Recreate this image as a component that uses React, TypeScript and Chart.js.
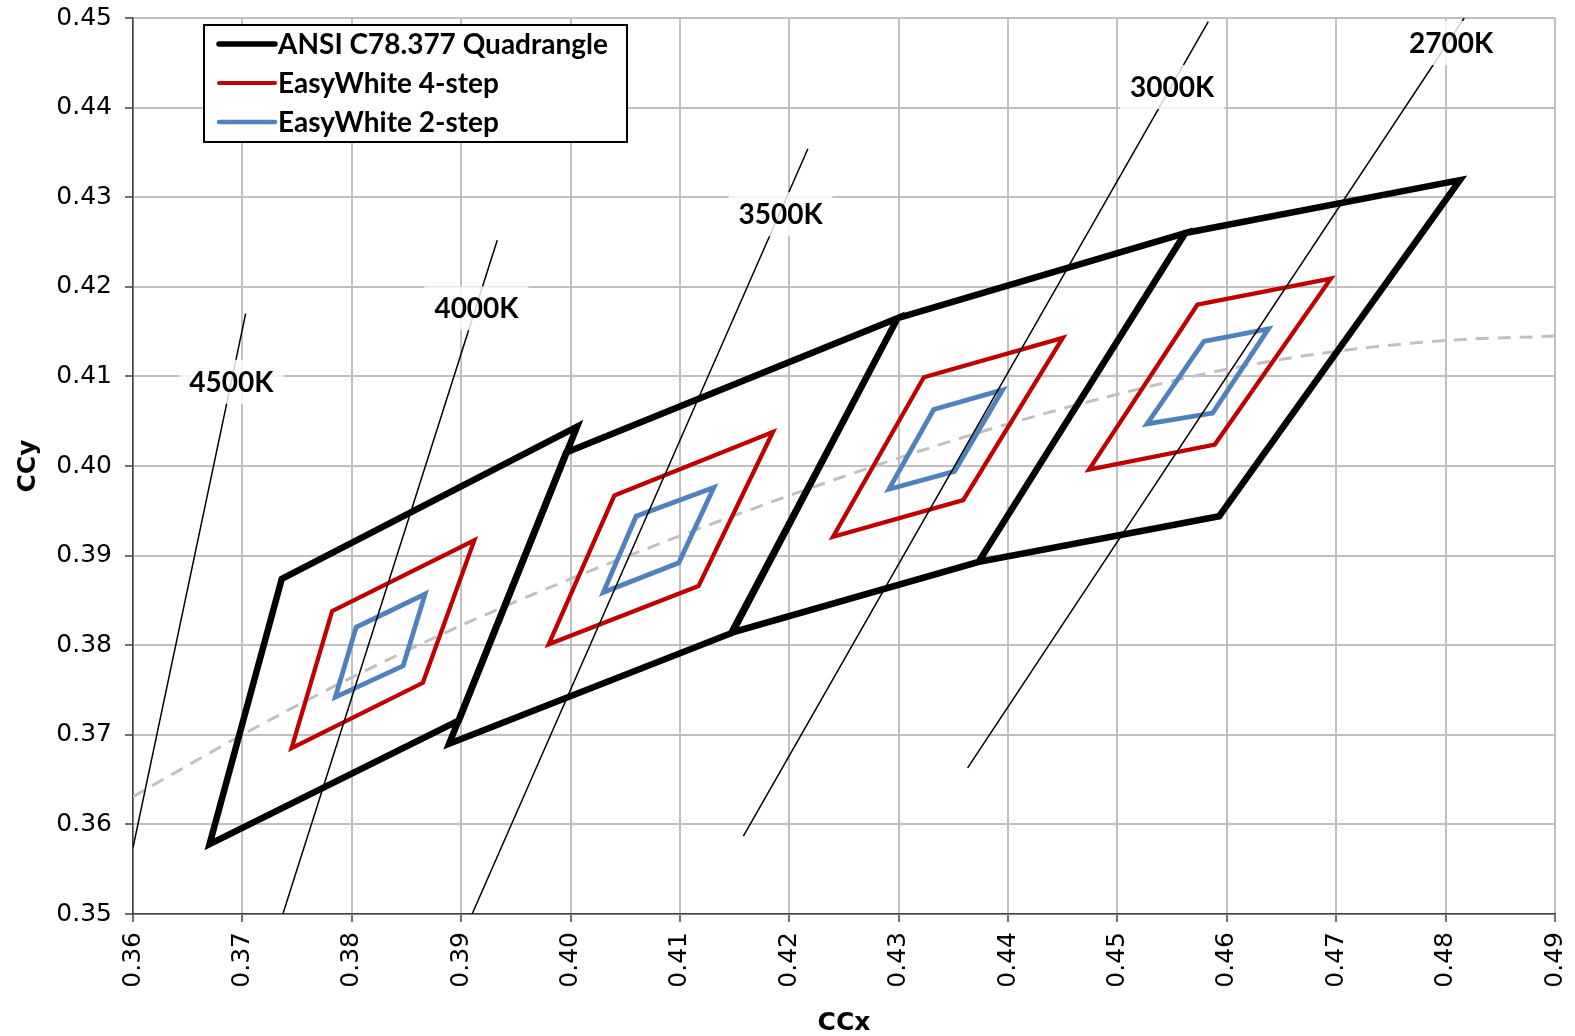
import React, { useEffect, useRef } from "react";
import { Chart, registerables } from "chart.js";

Chart.register(...registerables);

// ---- axis ticks ----
const xTicks = [0.36, 0.37, 0.38, 0.39, 0.4, 0.41, 0.42, 0.43, 0.44, 0.45, 0.46, 0.47, 0.48, 0.49];
const yTicks = [0.35, 0.36, 0.37, 0.38, 0.39, 0.4, 0.41, 0.42, 0.43, 0.44, 0.45];

// ---- series names ----
const seriesNames = ["ANSI C78.377 Quadrangle", "EasyWhite 4-step", "EasyWhite 2-step"];

// ---- ANSI C78.377 quadrangles (corners: TL, TR, BR, BL) ----
const ansi4000X = [0.3736, 0.4006, 0.3898, 0.367];
const ansi4000Y = [0.3874, 0.4044, 0.3716, 0.3578];
const ansi3500X = [0.3996, 0.4299, 0.4148, 0.3889];
const ansi3500Y = [0.4015, 0.4165, 0.3814, 0.369];
const ansi3000X = [0.4299, 0.4562, 0.4373, 0.4147];
const ansi3000Y = [0.4165, 0.426, 0.3893, 0.3814];
const ansi2700X = [0.4562, 0.4813, 0.4593, 0.4373];
const ansi2700Y = [0.426, 0.4319, 0.3944, 0.3893];

// ---- EasyWhite 4-step ----
const ew4_4000X = [0.3782, 0.3912, 0.3865, 0.3745];
const ew4_4000Y = [0.3838, 0.3917, 0.3758, 0.3685];
const ew4_3500X = [0.404, 0.4185, 0.4117, 0.398];
const ew4_3500Y = [0.3967, 0.4038, 0.3866, 0.3801];
const ew4_3000X = [0.4323, 0.445, 0.4359, 0.424];
const ew4_3000Y = [0.4099, 0.4143, 0.3962, 0.3921];
const ew4_2700X = [0.4573, 0.4695, 0.4589, 0.4474];
const ew4_2700Y = [0.418, 0.4209, 0.4024, 0.3996];

// ---- EasyWhite 2-step ----
const ew2_4000X = [0.3804, 0.3867, 0.3847, 0.3785];
const ew2_4000Y = [0.382, 0.3857, 0.3777, 0.3742];
const ew2_3500X = [0.406, 0.4131, 0.4099, 0.403];
const ew2_3500Y = [0.3944, 0.3976, 0.3892, 0.3859];
const ew2_3000X = [0.4332, 0.4395, 0.4351, 0.4291];
const ew2_3000Y = [0.4063, 0.4085, 0.3994, 0.3974];
const ew2_2700X = [0.4579, 0.4638, 0.4587, 0.4527];
const ew2_2700Y = [0.4139, 0.4153, 0.4059, 0.4047];

// ---- black-body (Planckian) locus, dashed ----
const locusX = [0.36, 0.37, 0.38, 0.39, 0.4, 0.41, 0.42, 0.43, 0.44, 0.45, 0.46, 0.47, 0.48, 0.49];
const locusY = [0.3631, 0.37, 0.3764, 0.3822, 0.3874, 0.3922, 0.3967, 0.4009, 0.4047, 0.408, 0.4108, 0.4128, 0.414, 0.4145];

// ---- isotherm lines (start / end) ----
const isoNames = ["4500K", "4000K", "3500K", "3000K", "2700K"];
const isoX1 = [0.36, 0.3737, 0.391, 0.4158, 0.4363];
const isoY1 = [0.3574, 0.35, 0.35, 0.3587, 0.3663];
const isoX2 = [0.3703, 0.3933, 0.4217, 0.4583, 0.4817];
const isoY2 = [0.417, 0.4252, 0.4354, 0.4496, 0.45];
// label centres
const isoLabelX = [0.369, 0.3914, 0.4192, 0.455, 0.4805];
const isoLabelY = [0.4094, 0.4176, 0.4281, 0.4423, 0.4472];

type Pt = { x: number; y: number };

function polygons(list: [number[], number[]][]): Pt[] {
  const pts: Pt[] = [];
  for (const [xs, ys] of list) {
    const n = xs.length;
    for (let i = 0; i <= n + 1; i++) {
      const k = i % n;
      pts.push({ x: xs[k], y: ys[k] });
    }
    pts.push({ x: NaN, y: NaN });
  }
  return pts;
}

function segments(): Pt[] {
  const pts: Pt[] = [];
  for (let i = 0; i < isoNames.length; i++) {
    pts.push({ x: isoX1[i], y: isoY1[i] });
    pts.push({ x: isoX2[i], y: isoY2[i] });
    pts.push({ x: NaN, y: NaN });
  }
  return pts;
}

const LABEL_FONT = "bold 28px Lato";
const LEGEND_FONT = "bold 28px Lato";

const overlayPlugin = {
  id: "overlay",
  afterDatasetsDraw(chart: any) {
    const ctx: CanvasRenderingContext2D = chart.ctx;
    const xs = chart.scales.x;
    const ys = chart.scales.y;
    const area = chart.chartArea;
    ctx.save();
    // isotherm labels
    ctx.font = LABEL_FONT;
    ctx.textAlign = "center";
    ctx.textBaseline = "middle";
    for (let i = 0; i < isoNames.length; i++) {
      const px = xs.getPixelForValue(isoLabelX[i]);
      const py = ys.getPixelForValue(isoLabelY[i]);
      ctx.fillStyle = "rgba(255,255,255,0.82)";
      ctx.fillRect(px - 52, py - 22, 104, 44);
      ctx.fillStyle = "#000";
      ctx.fillText(isoNames[i], px, py + 1);
    }
    // legend
    const lx = area.left + 71;
    const ly = area.top + 7;
    const lw = 423;
    const lh = 117;
    ctx.fillStyle = "#fff";
    ctx.fillRect(lx, ly, lw, lh);
    ctx.strokeStyle = "#000";
    ctx.lineWidth = 2;
    ctx.strokeRect(lx, ly, lw, lh);
    ctx.font = LEGEND_FONT;
    ctx.textAlign = "left";
    const widths = [5.5, 4, 4.5];
    for (let i = 0; i < 3; i++) {
      const ds = chart.data.datasets[i];
      const ry = ly + 19 + i * 39;
      ctx.strokeStyle = ds.borderColor;
      ctx.lineWidth = widths[i];
      ctx.lineCap = "round";
      ctx.beginPath();
      ctx.moveTo(lx + 15, ry);
      ctx.lineTo(lx + 71, ry);
      ctx.stroke();
      ctx.fillStyle = "#000";
      ctx.fillText(ds.label, lx + 74, ry + 1);
    }
    ctx.restore();
  },
};

export default function App() {
  const ref = useRef<HTMLCanvasElement | null>(null);

  useEffect(() => {
    if (!ref.current) return;
    const tickFont = { family: "DejaVu Sans", size: 25 };
    const titleFont = { family: "DejaVu Sans", size: 25, weight: "bold" as const, lineHeight: 1.0 };
    const chart = new Chart(ref.current, {
      type: "scatter",
      data: {
        datasets: [
          {
            label: seriesNames[0],
            data: polygons([
              [ansi4000X, ansi4000Y],
              [ansi3500X, ansi3500Y],
              [ansi3000X, ansi3000Y],
              [ansi2700X, ansi2700Y],
            ]),
            showLine: true,
            borderColor: "#000000",
            borderWidth: 6.5,
            borderJoinStyle: "miter",
            pointRadius: 0,
            order: 3,
          },
          {
            label: seriesNames[1],
            data: polygons([
              [ew4_4000X, ew4_4000Y],
              [ew4_3500X, ew4_3500Y],
              [ew4_3000X, ew4_3000Y],
              [ew4_2700X, ew4_2700Y],
            ]),
            showLine: true,
            borderColor: "#c00000",
            borderWidth: 4.3,
            borderJoinStyle: "miter",
            pointRadius: 0,
            order: 2,
          },
          {
            label: seriesNames[2],
            data: polygons([
              [ew2_4000X, ew2_4000Y],
              [ew2_3500X, ew2_3500Y],
              [ew2_3000X, ew2_3000Y],
              [ew2_2700X, ew2_2700Y],
            ]),
            showLine: true,
            borderColor: "#4f81bd",
            borderWidth: 4.8,
            borderJoinStyle: "miter",
            pointRadius: 0,
            order: 1,
          },
          {
            label: "isotherms",
            data: segments(),
            showLine: true,
            borderColor: "#000000",
            borderWidth: 1.5,
            pointRadius: 0,
            order: 0,
          },
          {
            label: "locus",
            data: locusX.map((x, i) => ({ x, y: locusY[i] })),
            showLine: true,
            borderColor: "#c0c0c0",
            borderWidth: 3,
            borderDash: [13, 9],
            cubicInterpolationMode: "monotone",
            pointRadius: 0,
            order: 4,
          },
        ],
      },
      options: {
        animation: false,
        responsive: false,
        layout: { padding: { top: 18, right: 20, left: 0, bottom: 0 } },
        plugins: { legend: { display: false }, tooltip: { enabled: false } },
        scales: {
          x: {
            type: "linear",
            min: xTicks[0],
            max: xTicks[xTicks.length - 1],
            afterBuildTicks: (s: any) => {
              s.ticks = xTicks.map((v) => ({ value: v }));
            },
            afterFit: (s: any) => {
              s.height = 122;
              s.paddingLeft = 0;
              s.paddingRight = 0;
            },
            ticks: {
              callback: (v: any) => Number(v).toFixed(2),
              minRotation: 90,
              maxRotation: 90,
              padding: 10,
              font: tickFont,
              color: "#000",
            },
            grid: { color: "#c0c0c0", lineWidth: 2, tickColor: "#404040", tickLength: 8, tickWidth: 1.5 },
            border: { color: "#404040", width: 1.5 },
            title: { display: true, text: "CCx", font: titleFont, color: "#000", padding: { top: 0, bottom: 0 } },
          },
          y: {
            type: "linear",
            min: yTicks[0],
            max: yTicks[yTicks.length - 1],
            afterBuildTicks: (s: any) => {
              s.ticks = yTicks.map((v) => ({ value: v }));
            },
            afterFit: (s: any) => {
              s.width = 133;
              s.paddingTop = 0;
              s.paddingBottom = 0;
            },
            ticks: {
              callback: (v: any) => Number(v).toFixed(2),
              padding: 13,
              font: tickFont,
              color: "#000",
            },
            grid: { color: "#c0c0c0", lineWidth: 2, tickColor: "#404040", tickLength: 8, tickWidth: 1.5 },
            border: { color: "#404040", width: 1.5 },
            title: { display: true, text: "CCy", font: titleFont, color: "#000", padding: { top: 16, bottom: 0 } },
          },
        },
      },
      plugins: [overlayPlugin],
    } as any);
    return () => chart.destroy();
  }, []);

  return (
    <div style={{ position: "fixed", left: 0, top: 0, width: 1575, height: 1036, background: "#fff" }}>
      <canvas ref={ref} width={1575} height={1036} style={{ width: 1575, height: 1036, display: "block" }} />
    </div>
  );
}
